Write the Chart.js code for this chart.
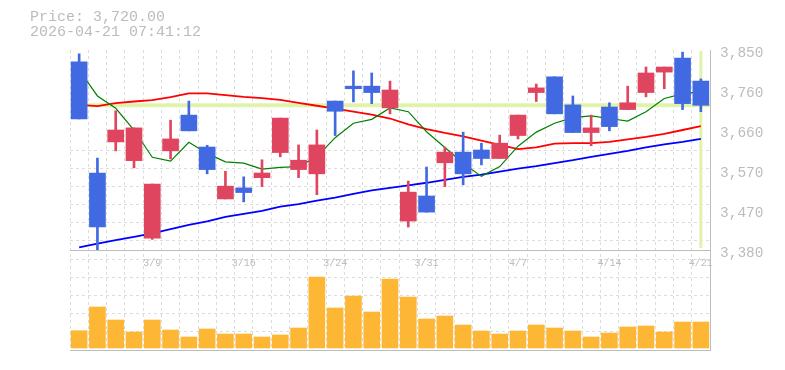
<!DOCTYPE html>
<html>
<head>
<meta charset="utf-8">
<script src="https://cdn.jsdelivr.net/npm/chart.js@4.4.1/dist/chart.umd.min.js"></script>
<style>
    body { margin: 0; background: #fff; }
    #contenitore { width: 785px; height: 370px; }
</style>
</head>
<body>
<div id="contenitore"><canvas id="grafico"></canvas></div>
<script>
// Dati (una candela per seduta)
const etichette = ['3/3', '3/4', '3/5', '3/6', '3/9', '3/10', '3/11', '3/12', '3/13', '3/16', '3/17', '3/18',
    '3/19', '3/23', '3/24', '3/25', '3/26', '3/27', '3/30', '3/31', '4/1', '4/2', '4/3', '4/6', '4/7', '4/8',
    '4/9', '4/10', '4/13', '4/14', '4/15', '4/16', '4/17', '4/20', '4/21'];
const aperture = [3822, 3561, 3634, 3590, 3408, 3613, 3697, 3622, 3500, 3526, 3550, 3609, 3569, 3559, 3730,
    3765, 3765, 3714, 3448, 3507, 3585, 3610, 3615, 3595, 3649, 3750, 3787, 3721, 3656, 3716, 3710, 3750,
    3798, 3831, 3777];
const massimi = [3841, 3596, 3707, 3667, 3535, 3685, 3730, 3626, 3565, 3552, 3592, 3690, 3627, 3662, 3730,
    3801, 3796, 3777, 3542, 3575, 3622, 3657, 3631, 3650, 3697, 3770, 3787, 3742, 3697, 3726, 3765, 3810,
    3810, 3845, 3782];
const minimi = [3688, 3378, 3613, 3573, 3405, 3594, 3660, 3559, 3500, 3493, 3529, 3599, 3550, 3510, 3649,
    3728, 3724, 3700, 3434, 3469, 3529, 3533, 3580, 3595, 3641, 3729, 3700, 3656, 3625, 3660, 3710, 3740,
    3759, 3710, 3705];
const chiusure = [3688, 3434, 3662, 3667, 3535, 3641, 3660, 3569, 3530, 3515, 3561, 3690, 3591, 3627, 3706,
    3759, 3750, 3756, 3516, 3469, 3610, 3559, 3595, 3631, 3697, 3761, 3700, 3656, 3667, 3670, 3726, 3796,
    3810, 3724, 3720];
const media5 = [3803, 3742, 3713, 3662, 3598, 3589, 3633, 3607, 3587, 3584, 3570, 3574, 3576, 3599, 3644,
    3678, 3687, 3714, 3705, 3658, 3621, 3584, 3553, 3576, 3624, 3657, 3678, 3691, 3695, 3689, 3683, 3705,
    3736, 3747, 3752];
const media25 = [3721, 3718, 3725, 3729, 3732, 3739, 3748, 3748, 3744, 3740, 3737, 3733, 3726, 3719, 3712,
    3705, 3698, 3689, 3675, 3664, 3655, 3647, 3637, 3627, 3617, 3621, 3630, 3631, 3631, 3634, 3640, 3646,
    3653, 3662, 3671];
const media75 = [3386, 3395, 3403, 3411, 3419, 3429, 3439, 3447, 3458, 3465, 3472, 3482, 3488, 3496, 3503,
    3512, 3520, 3526, 3532, 3538, 3545, 3552, 3557, 3564, 3571, 3577, 3584, 3591, 3599, 3606, 3613, 3621,
    3628, 3634, 3641];
const volumi = [17300, 41000, 28000, 16000, 28000, 18000, 11000, 19000, 14000, 14000, 11000, 13000, 20000,
    71000, 40000, 52000, 36000, 69000, 51000, 29000, 32000, 23000, 17000, 14000, 17000, 23000, 20000, 17000,
    11000, 15000, 21000, 22000, 16000, 26000, 26000];

const etichetteAsseX = ['3/9', '3/16', '3/24', '3/31', '4/7', '4/14', '4/21'];
const etichetteAsseY = ['3,380', '3,470', '3,570', '3,660', '3,760', '3,850'];
const prezzoAttuale = 3720;
const dataOra = '2026-04-21 07:41:12';

const ROSSO = '#e0455f';
const BLU = '#4169e1';
const GRIGIO_TESTO = '#bcbcbc';
const GRIGIO_BORDO = '#bdbdbd';
const GRIGIO_GRIGLIA = '#dcdcdc';
const FONT = 'Liberation Mono, DejaVu Sans Mono, monospace';

const corpi = aperture.map((o, i) => [o, chiusure[i]]);
const ombre = minimi.map((l, i) => [l, massimi[i]]);
const coloriCandele = aperture.map((o, i) => chiusure[i] >= o ? ROSSO : BLU);

// Linee del prezzo attuale (orizzontale) e dell'ultima seduta (verticale)
const pluginMirino = {
    id: 'mirino',
    beforeDatasetsDraw: (chart) => {
        const ctx = chart.ctx;
        const area = chart.chartArea;
        const asseY = chart.scales.y;
        const asseX = chart.scales.x;
        const py = asseY.getPixelForValue(prezzoAttuale);
        const px = asseX.getPixelForValue(etichette.length - 1);
        ctx.save();
        ctx.strokeStyle = '#e1f3ab';
        ctx.lineWidth = 4;
        ctx.beginPath();
        ctx.moveTo(area.left, py);
        ctx.lineTo(area.right, py);
        ctx.stroke();
        ctx.lineWidth = 3;
        ctx.beginPath();
        ctx.moveTo(px, asseY.top + 1);
        ctx.lineTo(px, asseY.bottom - 2);
        ctx.stroke();
        ctx.restore();
    }
};

function lineaMedia(dati, colore, spessore) {
    return {
        type: 'line', data: dati, borderColor: colore, borderWidth: spessore,
        pointRadius: 0, tension: 0, order: 2, xAxisID: 'x', yAxisID: 'y'
    };
}

// assi "muti" che servono solo a dividere l'area in due pannelli
function asseVuoto(posizione, peso, larghezza) {
    return {
        type: 'linear', position: posizione, stack: 'pannelli', stackWeight: peso,
        min: 0, max: 1,
        grid: { display: false, drawTicks: false },
        border: { display: false },
        ticks: { display: false },
        afterFit: (scala) => { scala.width = larghezza; }
    };
}

new Chart(document.getElementById('grafico'), {
    data: {
        labels: etichette,
        datasets: [
            {
                type: 'bar', data: corpi, backgroundColor: coloriCandele, barThickness: 16,
                grouped: false, order: 0, xAxisID: 'x', yAxisID: 'y'
            },
            {
                type: 'bar', data: ombre, backgroundColor: coloriCandele, barThickness: 2,
                grouped: false, order: 1, xAxisID: 'x', yAxisID: 'y'
            },
            lineaMedia(media5, '#008000', 1.2),
            lineaMedia(media25, '#ff0000', 1.8),
            lineaMedia(media75, '#0000ff', 1.8),
            {
                type: 'bar', data: volumi, backgroundColor: '#fdb734', barThickness: 16,
                grouped: false, order: 3, xAxisID: 'x', yAxisID: 'yv'
            }
        ]
    },
    options: {
        responsive: true,
        maintainAspectRatio: false,
        animation: false,
        layout: { padding: { left: 30, right: 0, top: 0, bottom: 20 } },
        plugins: {
            legend: { display: false },
            tooltip: { enabled: false },
            title: {
                display: true,
                align: 'start',
                text: ['Price: ' + prezzoAttuale.toLocaleString('en-US', { minimumFractionDigits: 2 }), dataOra],
                color: GRIGIO_TESTO,
                font: { family: FONT, size: 15, weight: 'normal', lineHeight: 1 },
                padding: { top: 10, bottom: 10 }
            }
        },
        scales: {
            x: {
                type: 'category',
                position: { y: 3380 },
                offset: true,
                grid: {
                    offset: true, drawTicks: false,
                    color: (c) => c.type === 'tick' ? GRIGIO_GRIGLIA : 'transparent'
                },
                border: { color: GRIGIO_BORDO, dash: [3, 3] },
                ticks: {
                    autoSkip: false, maxRotation: 0, padding: 7,
                    color: GRIGIO_TESTO, font: { family: FONT, size: 10 },
                    callback: function (valore, indice) {
                        const et = etichette[indice];
                        return etichetteAsseX.includes(et) ? et : '';
                    }
                }
            },
            xb: {
                type: 'category',
                position: 'bottom',
                grid: { display: false, drawTicks: false },
                ticks: { display: false },
                border: { color: GRIGIO_BORDO }
            },
            y: {
                type: 'linear',
                position: 'right',
                stack: 'pannelli', stackWeight: 2,
                min: 3380, max: 3850,
                grid: { display: false, drawTicks: false },
                border: { color: GRIGIO_BORDO },
                ticks: {
                    stepSize: 94, padding: 10, labelOffset: 3,
                    color: GRIGIO_TESTO, font: { family: FONT, size: 14.5 },
                    callback: (valore, indice) => etichetteAsseY[indice]
                },
                afterFit: (scala) => { scala.width = 75; }
            },
            yv: {
                type: 'linear',
                position: 'right',
                stack: 'pannelli', stackWeight: 1,
                min: -2000, max: 98000,
                grid: { display: false, drawTicks: false },
                border: { color: GRIGIO_BORDO },
                ticks: { display: false },
                afterFit: (scala) => { scala.width = 75; }
            },
            yg: {
                type: 'linear',
                position: 'left',
                stack: 'pannelli', stackWeight: 2,
                min: 0, max: 11,
                grid: {
                    drawTicks: false,
                    color: (c) => c.tick && c.tick.value === 0 ? 'transparent' : GRIGIO_GRIGLIA
                },
                border: { display: false, dash: [3, 3] },
                ticks: { display: false, stepSize: 1 },
                afterFit: (scala) => { scala.width = 40; }
            },
            ygv: asseVuoto('left', 1, 40)
        }
    },
    plugins: [pluginMirino]
});
</script>
</body>
</html>
